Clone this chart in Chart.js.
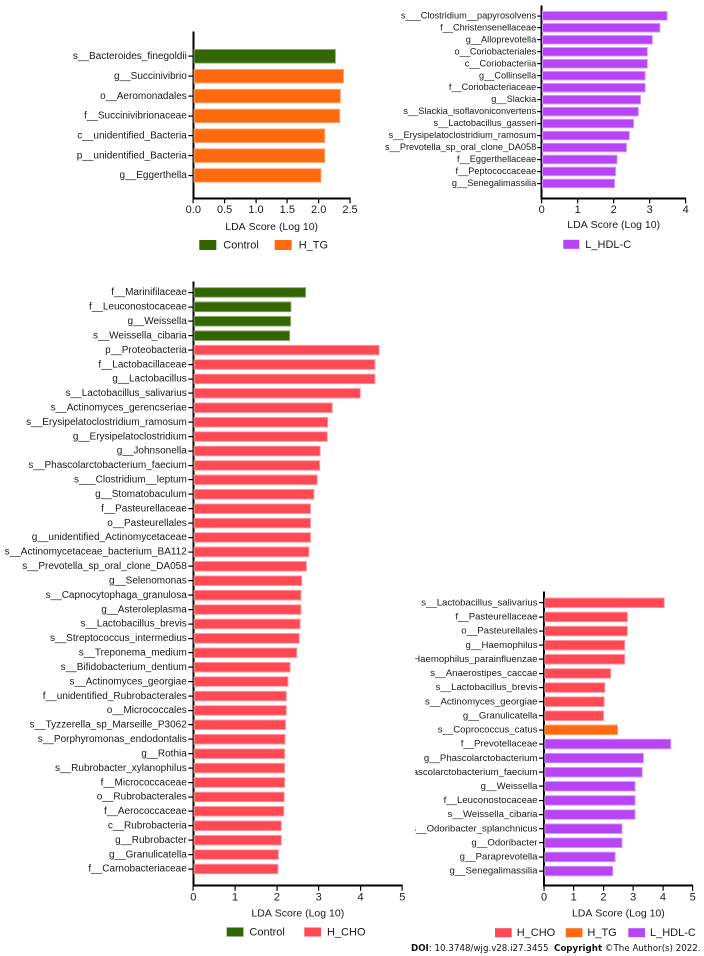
<!DOCTYPE html>
<html><head><meta charset="utf-8">
<script src="https://cdn.jsdelivr.net/npm/chart.js@4.4.1/dist/chart.umd.min.js"></script>
<style>
html,body{margin:0;padding:0;background:#fff;width:704px;height:956px;overflow:hidden;position:relative}
canvas{position:absolute}
#doi{position:absolute;left:411px;top:943px;font-family:"DejaVu Sans",Verdana,sans-serif;font-size:8.7px;line-height:10px;color:#111;white-space:nowrap}
</style></head><body>
<canvas id="c1"></canvas>
<canvas id="c2"></canvas>
<canvas id="c3"></canvas>
<canvas id="c4"></canvas>
<div id="doi"><b>DOI</b>: 10.3748/wjg.v28.i27.3455&nbsp; <b>Copyright</b> ©The Author(s) 2022.</div>
<script>
// ---------- data ----------
const p1Labels = ["s__Bacteroides_finegoldii","g__Succinivibrio","o__Aeromonadales","f__Succinivibrionaceae","c__unidentified_Bacteria","p__unidentified_Bacteria","g__Eggerthella"];
const p1Values = [2.27,2.40,2.35,2.34,2.10,2.10,2.04];
const p1Groups = ["Control","H_TG","H_TG","H_TG","H_TG","H_TG","H_TG"];
const p1Legend = ["Control","H_TG"];
const p1Ticks = [0,0.5,1,1.5,2,2.5];

const p2Labels = ["s___Clostridium__papyrosolvens","f__Christensenellaceae","g__Alloprevotella","o__Coriobacteriales","c__Coriobacteriia","g__Collinsella","f__Coriobacteriaceae","g__Slackia","s__Slackia_isoflavoniconvertens","s__Lactobacillus_gasseri","s__Erysipelatoclostridium_ramosum","s__Prevotella_sp_oral_clone_DA058","f__Eggerthellaceae","f__Peptococcaceae","g__Senegalimassilia"];
const p2Values = [3.49,3.29,3.08,2.94,2.94,2.88,2.88,2.75,2.69,2.56,2.44,2.36,2.10,2.06,2.03];
const p2Groups = p2Labels.map(() => "L_HDL-C");
const p2Legend = ["L_HDL-C"];
const p2Ticks = [0,1,2,3,4];

const p3Labels = ["f__Marinifilaceae","f__Leuconostocaceae","g__Weissella","s__Weissella_cibaria","p__Proteobacteria","f__Lactobacillaceae","g__Lactobacillus","s__Lactobacillus_salivarius","s__Actinomyces_gerencseriae","s__Erysipelatoclostridium_ramosum","g__Erysipelatoclostridium","g__Johnsonella","s__Phascolarctobacterium_faecium","s___Clostridium__leptum","g__Stomatobaculum","f__Pasteurellaceae","o__Pasteurellales","g__unidentified_Actinomycetaceae","s__Actinomycetaceae_bacterium_BA112","s__Prevotella_sp_oral_clone_DA058","g__Selenomonas","s__Capnocytophaga_granulosa","g__Asteroleplasma","s__Lactobacillus_brevis","s__Streptococcus_intermedius","s__Treponema_medium","s__Bifidobacterium_dentium","s__Actinomyces_georgiae","f__unidentified_Rubrobacterales","o__Micrococcales","s__Tyzzerella_sp_Marseille_P3062","s__Porphyromonas_endodontalis","g__Rothia","s__Rubrobacter_xylanophilus","f__Micrococcaceae","o__Rubrobacterales","f__Aerococcaceae","c__Rubrobacteria","g__Rubrobacter","g__Granulicatella","f__Carnobacteriaceae"];
const p3Values = [2.69,2.34,2.33,2.31,4.45,4.35,4.35,4.00,3.33,3.22,3.21,3.04,3.03,2.97,2.89,2.81,2.81,2.81,2.77,2.71,2.60,2.58,2.58,2.56,2.54,2.48,2.32,2.27,2.23,2.23,2.21,2.20,2.19,2.19,2.19,2.18,2.17,2.11,2.11,2.04,2.03];
const p3Groups = p3Labels.map((_, i) => i < 4 ? "Control" : "H_CHO");
const p3Legend = ["Control","H_CHO"];
const p3Ticks = [0,1,2,3,4,5];

const p4Labels = ["s__Lactobacillus_salivarius","f__Pasteurellaceae","o__Pasteurellales","g__Haemophilus","s__Haemophilus_parainfluenzae","s__Anaerostipes_caccae","s__Lactobacillus_brevis","s__Actinomyces_georgiae","g__Granulicatella","s__Coprococcus_catus","f__Prevotellaceae","g__Phascolarctobacterium","s__Phascolarctobacterium_faecium","g__Weissella","f__Leuconostocaceae","s__Weissella_cibaria","s__Odoribacter_splanchnicus","g__Odoribacter","g__Paraprevotella","g__Senegalimassilia"];
const p4Values = [4.05,2.81,2.81,2.72,2.72,2.25,2.05,2.03,2.01,2.48,4.27,3.35,3.31,3.07,3.07,3.07,2.63,2.63,2.40,2.32];
const p4Groups = ["H_CHO","H_CHO","H_CHO","H_CHO","H_CHO","H_CHO","H_CHO","H_CHO","H_CHO","H_TG","L_HDL-C","L_HDL-C","L_HDL-C","L_HDL-C","L_HDL-C","L_HDL-C","L_HDL-C","L_HDL-C","L_HDL-C","L_HDL-C"];
const p4Legend = ["H_CHO","H_TG","L_HDL-C"];
const p4Ticks = [0,1,2,3,4,5];

const axisTitle = "LDA Score (Log 10)";

// ---------- styles ----------
const FILL = {"Control":"#336600","H_TG":"#ff6a0e","H_CHO":"#ff4a55","L_HDL-C":"#b845f5"};
const EDGE = {"Control":"#86a86a","H_TG":"#ffaa78","H_CHO":"#ff9ca2","L_HDL-C":"#d79bfa"};
const FONT = '"Liberation Sans", Arial, sans-serif';
const TXT = '#1a1a1a';
Chart.defaults.font.family = FONT;

const boxLegendPlugin = {
  id: 'boxLegend',
  afterDraw(chart, args, o) {
    const ctx = chart.ctx;
    ctx.save();
    ctx.font = o.fontSize + 'px ' + FONT;
    ctx.textBaseline = 'middle';
    ctx.textAlign = 'left';
    chart.data.datasets.forEach((ds, i) => {
      const x = o.xs[i];
      ctx.fillStyle = ds.backgroundColor;
      ctx.fillRect(x, o.y - o.boxH / 2, o.boxW, o.boxH);
      ctx.fillStyle = TXT;
      ctx.fillText(ds.label, x + o.boxW + o.gap, o.y + 0.5);
    });
    ctx.restore();
  }
};

function makeChart(id, box, labels, values, groups, legendGroups, ticksArr, g) {
  const cv = document.getElementById(id);
  cv.style.left = box.left + 'px';
  cv.style.top = box.top + 'px';
  cv.style.width = box.width + 'px';
  cv.style.height = box.height + 'px';
  const datasets = legendGroups.map(grp => ({
    label: grp,
    data: labels.map((l, i) => groups[i] === grp ? {x: values[i], y: i} : null).filter(Boolean),
    backgroundColor: FILL[grp],
    borderColor: EDGE[grp],
    borderWidth: 1,
    borderSkipped: false,
    barThickness: g.barThickness,
    grouped: false
  }));
  const tickGrid = {display: true, drawOnChartArea: false, drawTicks: true, tickLength: g.tickLen, color: '#000', lineWidth: 1.2, offset: false};
  new Chart(cv, {
    type: 'bar',
    data: {datasets},
    options: {
      indexAxis: 'y',
      responsive: false,
      animation: false,
      devicePixelRatio: 2,
      layout: {padding: {top: g.padTop, right: g.padRight, bottom: g.padBottom, left: 0}},
      plugins: {
        legend: {display: false},
        tooltip: {enabled: false},
        boxLegend: {xs: g.legendXs.map(x => x - box.left), y: g.legendY - box.top, boxW: g.boxW, boxH: g.boxH, gap: g.gap, fontSize: 11}
      },
      scales: {
        y: {
          type: 'linear', reverse: true, offset: false,
          min: g.yMin, max: g.yMax,
          afterBuildTicks: s => { s.ticks = labels.map((_, i) => ({value: i})); },
          afterFit: s => { s.width = g.yAxisX - box.left; },
          ticks: {autoSkip: false, callback: v => labels[v], font: {size: g.labelSize}, color: TXT, padding: g.labPad},
          grid: tickGrid,
          border: {display: true, color: '#000', width: 2}
        },
        x: {
          type: 'linear', min: 0, max: ticksArr[ticksArr.length - 1], offset: false,
          afterBuildTicks: s => { s.ticks = ticksArr.map(v => ({value: v})); },
          afterFit: s => { s.height = g.xHeight; },
          ticks: {autoSkip: false, callback: v => g.dec ? v.toFixed(1) : String(v), font: {size: 11}, color: TXT, padding: 0},
          grid: Object.assign({}, tickGrid, {tickLength: 5}),
          border: {display: true, color: '#000', width: 2},
          title: {display: true, text: axisTitle, font: {size: 10.5}, color: TXT, padding: {top: 0, bottom: 4}}
        }
      }
    },
    plugins: [boxLegendPlugin]
  });
}

makeChart('c1', {left: 0, top: 25, width: 364, height: 235}, p1Labels, p1Values, p1Groups, p1Legend, p1Ticks,
  {padTop: 6, padRight: 14, padBottom: 22.7, yAxisX: 193.3, xHeight: 39, yMin: -1.2, yMax: 7.15, barThickness: 14,
   labelSize: 10, labPad: 1.5, tickLen: 5, dec: true, legendXs: [199.3, 274.7], legendY: 245, boxW: 17, boxH: 10, gap: 7});

makeChart('c2', {left: 370, top: 0, width: 334, height: 258}, p2Labels, p2Values, p2Groups, p2Legend, p2Ticks,
  {padTop: 0, padRight: 18.3, padBottom: 22.7, yAxisX: 541.7, xHeight: 37, yMin: -0.78, yMax: 15.24, barThickness: 9,
   labelSize: 9.2, labPad: 1, tickLen: 4.5, dec: false, legendXs: [563.3], legendY: 244.3, boxW: 16, boxH: 9, gap: 6});

makeChart('c3', {left: 0, top: 275, width: 414, height: 669}, p3Labels, p3Values, p3Groups, p3Legend, p3Ticks,
  {padTop: 6, padRight: 11.7, padBottom: 20.3, yAxisX: 193.3, xHeight: 38, yMin: -0.69, yMax: 41.16, barThickness: 10,
   labelSize: 10, labPad: 1.5, tickLen: 5, dec: false, legendXs: [226.7, 304.3], legendY: 932, boxW: 16.7, boxH: 9, gap: 6});

makeChart('c4', {left: 415, top: 585, width: 289, height: 359}, p4Labels, p4Values, p4Groups, p4Legend, p4Ticks,
  {padTop: 6.7, padRight: 11.3, padBottom: 20.3, yAxisX: 544, xHeight: 38, yMin: -0.75, yMax: 20.04, barThickness: 10,
   labelSize: 9.6, labPad: 1.5, tickLen: 5, dec: false, legendXs: [495, 565.7, 628.3], legendY: 932.7, boxW: 16.7, boxH: 9, gap: 5});
</script>
</body></html>
